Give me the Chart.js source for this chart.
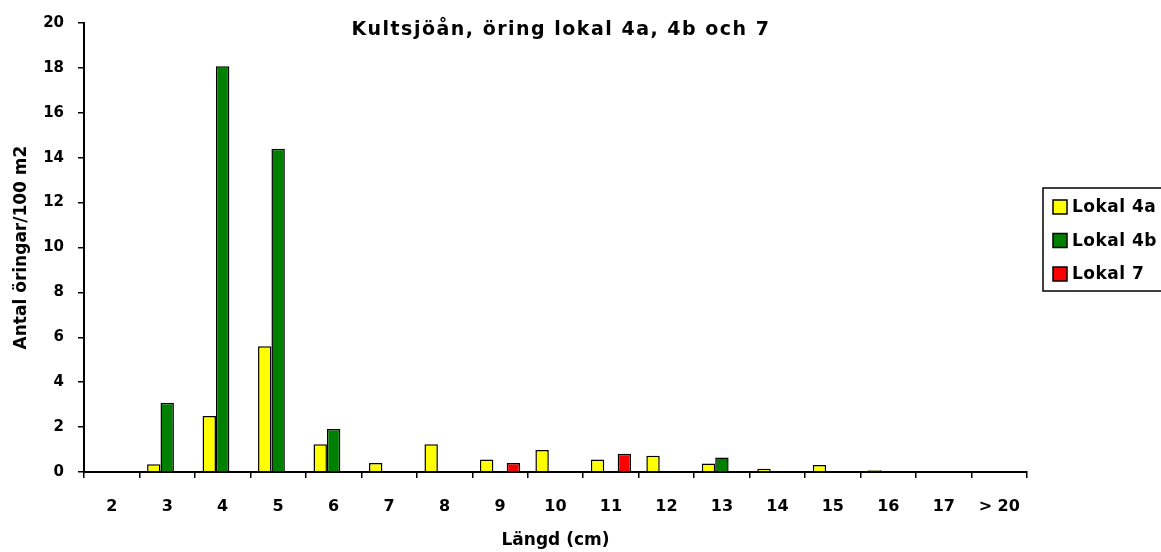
<!DOCTYPE html>
<html>
<head>
<meta charset="utf-8">
<script src="https://cdn.jsdelivr.net/npm/chart.js@4/dist/chart.umd.min.js"></script>
<style>
  html, body { margin: 0; padding: 0; background: #fff; }
</style>
</head>
<body>
<canvas id="kultChart" width="1161" height="552"></canvas>
<script>
// Length classes (cm)
const lengths = ['2', '3', '4', '5', '6', '7', '8', '9', '10', '11', '12', '13', '14', '15', '16', '17', '> 20'];

// Trout per 100 m2 for each site
const lokal4a = [0, 0.34, 2.5, 5.6, 1.24, 0.4, 1.24, 0.56, 0.98, 0.56, 0.72, 0.38, 0.15, 0.31, 0.08, 0, 0];
const lokal4b = [0, 3.08, 18.07, 14.4, 1.91, 0, 0, 0, 0, 0, 0, 0.65, 0, 0, 0, 0, 0];
const lokal7 = [0, 0, 0, 0, 0, 0, 0, 0.4, 0, 0.81, 0, 0, 0, 0, 0, 0, 0];

const yTicks = [0, 2, 4, 6, 8, 10, 12, 14, 16, 18, 20];

const chartTitle = 'Kultsjöån, öring lokal 4a, 4b och 7';
// the Excel export is stretched sideways, a wide font gets closest
const font = '"DejaVu Sans", Arial, sans-serif';

// Title sits inside the plot area, so draw it by hand
const titlePlugin = {
  id: 'insideTitle',
  afterDraw(chart) {
    const ctx = chart.ctx;
    ctx.save();
    ctx.font = 'bold 19px ' + font;
    ctx.letterSpacing = '1.5px';
    ctx.fillStyle = '#000';
    ctx.textAlign = 'center';
    ctx.textBaseline = 'alphabetic';
    ctx.fillText(chartTitle, 561, 35);
    ctx.restore();
  }
};

// Boxed legend on the right, like the Excel one
const boxLegend = {
  id: 'boxLegend',
  afterDraw(chart) {
    const ctx = chart.ctx;
    ctx.save();
    ctx.strokeStyle = '#000';
    ctx.lineWidth = 1.5;
    ctx.strokeRect(1043, 188, 140, 103);
    ctx.font = 'bold 17px ' + font;
    ctx.letterSpacing = '0.5px';
    ctx.textBaseline = 'alphabetic';
    ctx.textAlign = 'left';
    chart.data.datasets.forEach((ds, i) => {
      const y = 207 + i * 33.5;
      ctx.fillStyle = ds.backgroundColor;
      ctx.fillRect(1053, y - 7, 14, 14);
      ctx.strokeRect(1053, y - 7, 14, 14);
      ctx.fillStyle = '#000';
      ctx.fillText(ds.label, 1072, y + 5);
    });
    ctx.restore();
  }
};

const config = {
  type: 'bar',
  data: {
    labels: lengths,
    datasets: [
      { label: 'Lokal 4a', data: lokal4a, backgroundColor: '#FFFF00' },
      { label: 'Lokal 4b', data: lokal4b, backgroundColor: '#008000' },
      { label: 'Lokal 7', data: lokal7, backgroundColor: '#FF0000' }
    ]
  },
  options: {
    responsive: false,
    animation: false,
    layout: { padding: { top: 22, right: 134, left: 0, bottom: 0 } },
    datasets: {
      bar: {
        borderColor: '#000',
        borderWidth: 1.5,
        categoryPercentage: 0.725,
        barPercentage: 1
      }
    },
    plugins: {
      legend: { display: false },
      tooltip: { enabled: false }
    },
    scales: {
      x: {
        offset: true,
        grid: { offset: true, drawOnChartArea: false, drawTicks: true, tickLength: 6, color: '#000', lineWidth: 1.5 },
        border: { color: '#000', width: 2 },
        ticks: { color: '#000', font: { family: font, size: 16, weight: 'bold' }, padding: 19, maxRotation: 0, autoSkip: false },
        title: { display: true, text: 'Längd (cm)', color: '#000', font: { family: font, size: 17, weight: 'bold' }, padding: { top: 0, bottom: 1 } },
        afterFit(scale) { scale.height = 80; }
      },
      y: {
        min: 0,
        max: 20,
        afterBuildTicks(scale) { scale.ticks = yTicks.map(v => ({ value: v })); },
        grid: { drawOnChartArea: false, drawTicks: true, tickLength: 6, color: '#000', lineWidth: 1.5 },
        border: { color: '#000', width: 2 },
        ticks: { color: '#000', font: { family: font, size: 15, weight: 'bold' }, padding: 14 },
        title: { display: true, text: 'Antal öringar/100 m2', color: '#000', font: { family: font, size: 17, weight: 'bold' }, padding: { top: 11, bottom: 0 } },
        afterFit(scale) { scale.width = 84; }
      }
    }
  },
  plugins: [titlePlugin, boxLegend]
};

window.addEventListener('load', () => {
  const ctx = document.getElementById('kultChart').getContext('2d');
  new Chart(ctx, config);
});
</script>
</body>
</html>
